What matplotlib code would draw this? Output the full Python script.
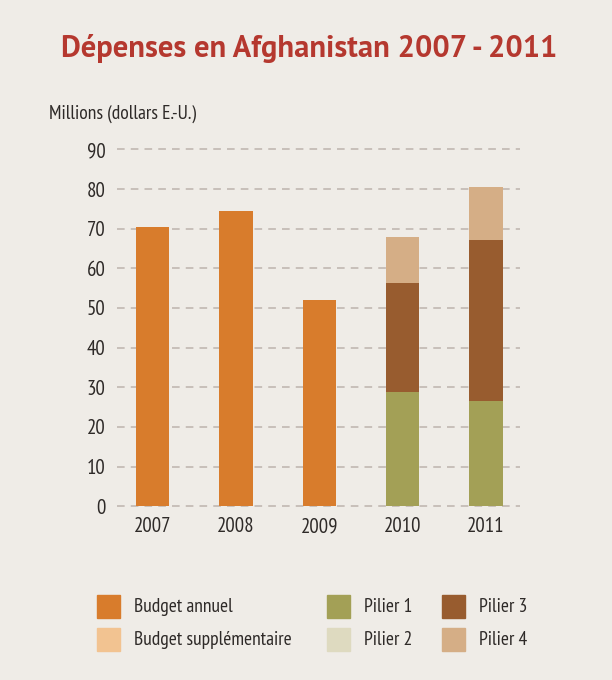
import numpy as np
import matplotlib.pyplot as plt
from matplotlib.patches import Rectangle
from matplotlib import font_manager

# Data (millions USD)
years = ['2007', '2008', '2009', '2010', '2011']
budget_annuel = [70.3, 74.5, 52.0, 0, 0]
pilier1 = [0, 0, 0, 28.8, 26.5]
pilier3 = [0, 0, 0, 27.6, 40.6]
pilier4 = [0, 0, 0, 11.5, 13.5]

legend_labels = ['Budget annuel', 'Budget supplémentaire', 'Pilier 1', 'Pilier 2', 'Pilier 3', 'Pilier 4']

# Colours
c_annuel = '#d87c2c'
c_supp = '#f2c391'
c_p1 = '#a3a056'
c_p2 = '#dedac0'
c_p3 = '#985c2f'
c_p4 = '#d5ae86'
bg = '#efece7'
text_col = '#2e2a28'

bold_fonts = set(f.name for f in font_manager.fontManager.ttflist
                 if isinstance(f.weight, int) and f.weight >= 600)
all_fonts = set(f.name for f in font_manager.fontManager.ttflist)


def pick(cands, pool):
    for c in cands:
        if c in pool:
            return c
    return 'DejaVu Sans'


narrow = pick(['PT Sans Narrow', 'Roboto Condensed', 'Fira Sans Condensed',
               'Open Sans Condensed', 'Archivo Narrow'], all_fonts)
title_font = pick(['Source Sans Pro', 'Source Sans 3', 'PT Sans', 'Fira Sans',
                   'Open Sans', 'Lato'], bold_fonts)
plt.rcParams['font.family'] = [narrow, 'DejaVu Sans']

fig = plt.figure(figsize=(6.12, 6.8), dpi=100, facecolor=bg)
ax = fig.add_axes([0.191, 0.252, 0.659, 0.54])
ax.set_facecolor('none')

x = np.arange(len(years))
w = 0.4
ax.bar(x, budget_annuel, w, color=c_annuel, zorder=3)
ax.bar(x, pilier1, w, color=c_p1, zorder=3)
b1 = np.array(pilier1)
ax.bar(x, pilier3, w, bottom=b1, color=c_p3, zorder=3)
b3 = b1 + np.array(pilier3)
ax.bar(x, pilier4, w, bottom=b3, color=c_p4, zorder=3)

ax.set_xlim(-0.43, 4.41)
ax.set_ylim(-0.6, 92)
ax.set_yticks(np.arange(0, 91, 10))
ax.set_xticks(x)
ax.set_xticklabels(years)
ax.yaxis.grid(True, linestyle=(0, (5, 4)), color='#bdb3ad', linewidth=1.1, zorder=0)
for s in ax.spines.values():
    s.set_visible(False)
ax.tick_params(length=0, labelsize=15, colors=text_col)
ax.tick_params(axis='y', pad=8)
ax.tick_params(axis='x', pad=6)

fig.text(0.505, 0.928, 'Dépenses en Afghanistan 2007 - 2011', ha='center', va='center',
         fontsize=22, fontweight='bold', color='#b5382f', family=[title_font, 'DejaVu Sans'])
fig.text(0.08, 0.833, 'Millions (dollars E.-U.)', ha='left', va='center',
         fontsize=14, color=text_col)

# Legend
leg_colors = [c_annuel, c_supp, c_p1, c_p2, c_p3, c_p4]
col_x = [97, 97, 327, 327, 442, 442]
row_y = [607, 640, 607, 640, 607, 640]
for lab, col, px, py in zip(legend_labels, leg_colors, col_x, row_y):
    fig.patches.append(Rectangle((px / 612, 1 - (py + 11) / 680), 23 / 612, 23 / 680,
                                 transform=fig.transFigure, color=col))
    fig.text((px + 37) / 612, 1 - py / 680, lab, ha='left', va='center',
             fontsize=14, color=text_col)

fig.savefig('out.png', dpi=100, facecolor=bg)
